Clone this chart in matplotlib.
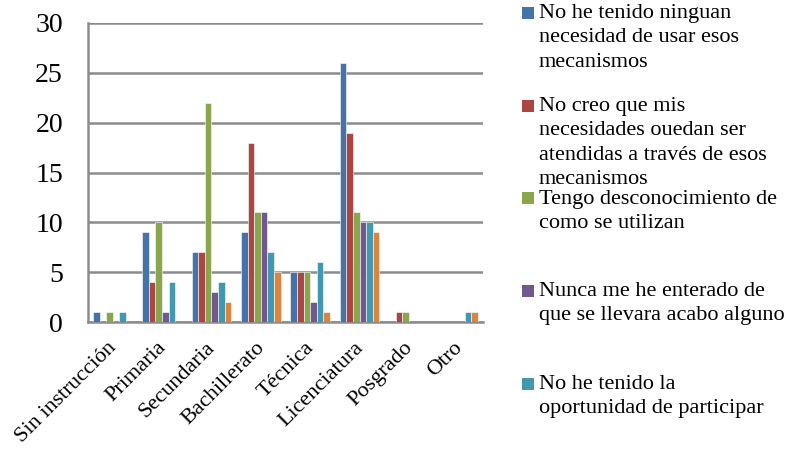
import matplotlib
matplotlib.use("Agg")
from matplotlib import pyplot as plt
from matplotlib.patches import Rectangle
from matplotlib.transforms import ScaledTranslation
import numpy as np

categories = ["Sin instrucción", "Primaria", "Secundaria", "Bachillerato",
              "Técnica", "Licenciatura", "Posgrado", "Otro"]

s_ninguna = [1, 9, 7, 9, 5, 26, 0, 0]
s_nocreo = [0, 4, 7, 18, 5, 19, 1, 0]
s_descon = [1, 10, 22, 11, 5, 11, 1, 0]
s_nunca = [0, 1, 3, 11, 2, 10, 0, 0]
s_oport = [1, 4, 4, 7, 6, 10, 0, 1]
s_otro = [0, 0, 2, 5, 1, 9, 0, 1]

series = [s_ninguna, s_nocreo, s_descon, s_nunca, s_oport, s_otro]
colors = ["#4572A7", "#AA4643", "#89A54E", "#71588F", "#4198AF", "#DB843D"]

legend_labels = [
    "No he tenido ninguan\nnecesidad de usar esos\nmecanismos",
    "No creo que mis\nnecesidades ouedan ser\natendidas a través de esos\nmecanismos",
    "Tengo desconocimiento de\ncomo se utilizan",
    "Nunca me he enterado de\nque se llevara acabo alguno",
    "No he tenido la\noportunidad de participar",
]
# pixel rows of the legend entries (text top, marker top)
legend_text_tops = [4, 97, 190, 282, 375]
legend_mark_tops = [7, 100, 192, 285, 378]

plt.rcParams['font.family'] = ['Liberation Serif', 'DejaVu Serif']

fig = plt.figure(figsize=(8.01, 4.49), dpi=100)
W, H = 801, 449
ax = fig.add_axes([88 / W, 1 - 322 / H, (483 - 88) / W, (322 - 23) / H])

x = np.arange(len(categories))
bw = 0.8 / 6
for i, (vals, c) in enumerate(zip(series, colors)):
    ax.bar(x - 0.4 + bw * (i + 0.5), vals, width=bw, color=c,
           edgecolor="white", linewidth=0.4, zorder=3)

ax.set_xlim(-0.5, len(categories) - 0.5)
ax.set_ylim(0, 30)
ax.set_yticks(range(0, 31, 5))
ax.yaxis.grid(True, color="#8c8c8c", linewidth=1.8, zorder=0)
ax.tick_params(axis="y", labelsize=20, length=0, pad=18)
ax.tick_params(axis="x", length=0, pad=0)
ax.set_xticks(x)
ax.set_xticklabels(categories, rotation=45, ha="right", va="center",
                   rotation_mode="anchor", fontsize=16)
for lbl in ax.get_xticklabels():
    lbl.set_transform(lbl.get_transform() +
                      ScaledTranslation(0.01, -0.23, fig.dpi_scale_trans))
for side in ["top", "right"]:
    ax.spines[side].set_visible(False)
for side in ["left", "bottom"]:
    ax.spines[side].set_color("#8c8c8c")
    ax.spines[side].set_linewidth(1.8)

for lab, ttop, mtop, c in zip(legend_labels, legend_text_tops, legend_mark_tops, colors):
    fig.patches.append(Rectangle((522 / W, 1 - (mtop + 12) / H), 12 / W, 12 / H,
                                 transform=fig.transFigure, facecolor=c,
                                 edgecolor="none"))
    fig.text(539 / W, 1 - ttop / H, lab, fontsize=16, va="top", ha="left",
             linespacing=1.38)

fig.savefig("out.png", dpi=100)
